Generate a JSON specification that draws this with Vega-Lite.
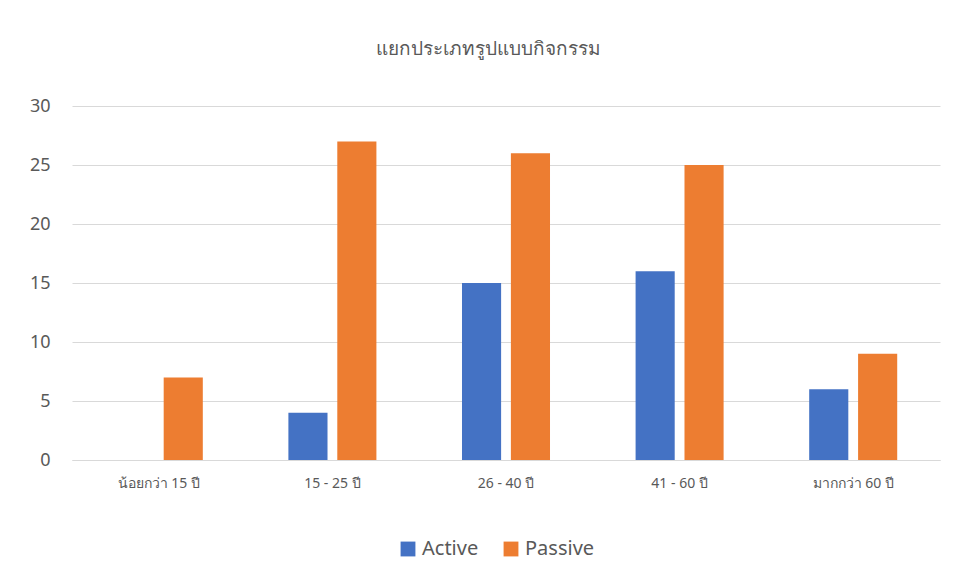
{
  "$schema": "https://vega.github.io/schema/vega-lite/v6.json",
  "width": 868,
  "height": 354,
  "autosize": "none",
  "padding": {"left": 72, "top": 106, "right": 17, "bottom": 120},
  "background": "white",
  "title": {"text": "แยกประเภทรูปแบบกิจกรรม", "fontSize": 19, "fontWeight": "normal", "color": "#595959", "font": "Noto Sans", "offset": 38, "anchor": "middle", "dx": -18},
  "data": {"values": [
    {"age": "น้อยกว่า 15 ปี", "type": "Active", "value": 0},
    {"age": "น้อยกว่า 15 ปี", "type": "Passive", "value": 7},
    {"age": "15 - 25 ปี", "type": "Active", "value": 4},
    {"age": "15 - 25 ปี", "type": "Passive", "value": 27},
    {"age": "26 - 40 ปี", "type": "Active", "value": 15},
    {"age": "26 - 40 ปี", "type": "Passive", "value": 26},
    {"age": "41 - 60 ปี", "type": "Active", "value": 16},
    {"age": "41 - 60 ปี", "type": "Passive", "value": 25},
    {"age": "มากกว่า 60 ปี", "type": "Active", "value": 6},
    {"age": "มากกว่า 60 ปี", "type": "Passive", "value": 9}
  ]},
  "mark": {"type": "bar"},
  "encoding": {
    "x": {"field": "age", "type": "nominal", "sort": null, "title": null,
      "scale": {"paddingInner": 0.493, "paddingOuter": 0.2465},
      "axis": {"labelAngle": 0, "labelFontSize": 14, "labelColor": "#595959", "labelFont": "Noto Sans", "labelPadding": 16, "ticks": false, "domainColor": "#d9d9d9", "domainWidth": 1}},
    "xOffset": {"field": "type", "type": "nominal", "scale": {"paddingInner": 0.2, "paddingOuter": 0}},
    "y": {"field": "value", "type": "quantitative", "title": null,
      "scale": {"domain": [0, 30]},
      "axis": {"values": [0, 5, 10, 15, 20, 25, 30], "labelFontSize": 18, "labelColor": "#595959", "labelFont": "Noto Sans", "labelPadding": 22, "ticks": false, "domain": false, "gridColor": "#d9d9d9", "gridWidth": 1}},
    "color": {"field": "type", "type": "nominal", "title": null,
      "scale": {"domain": ["Active", "Passive"], "range": ["#4472C4", "#ED7D31"]},
      "legend": {"orient": "none", "legendX": 326, "legendY": 433, "direction": "horizontal", "symbolType": "square", "symbolSize": 220, "symbolStrokeWidth": 0, "labelFontSize": 20, "labelColor": "#595959", "labelFont": "Noto Sans", "columnPadding": 22}}
  },
  "config": {"view": {"stroke": null}}
}
